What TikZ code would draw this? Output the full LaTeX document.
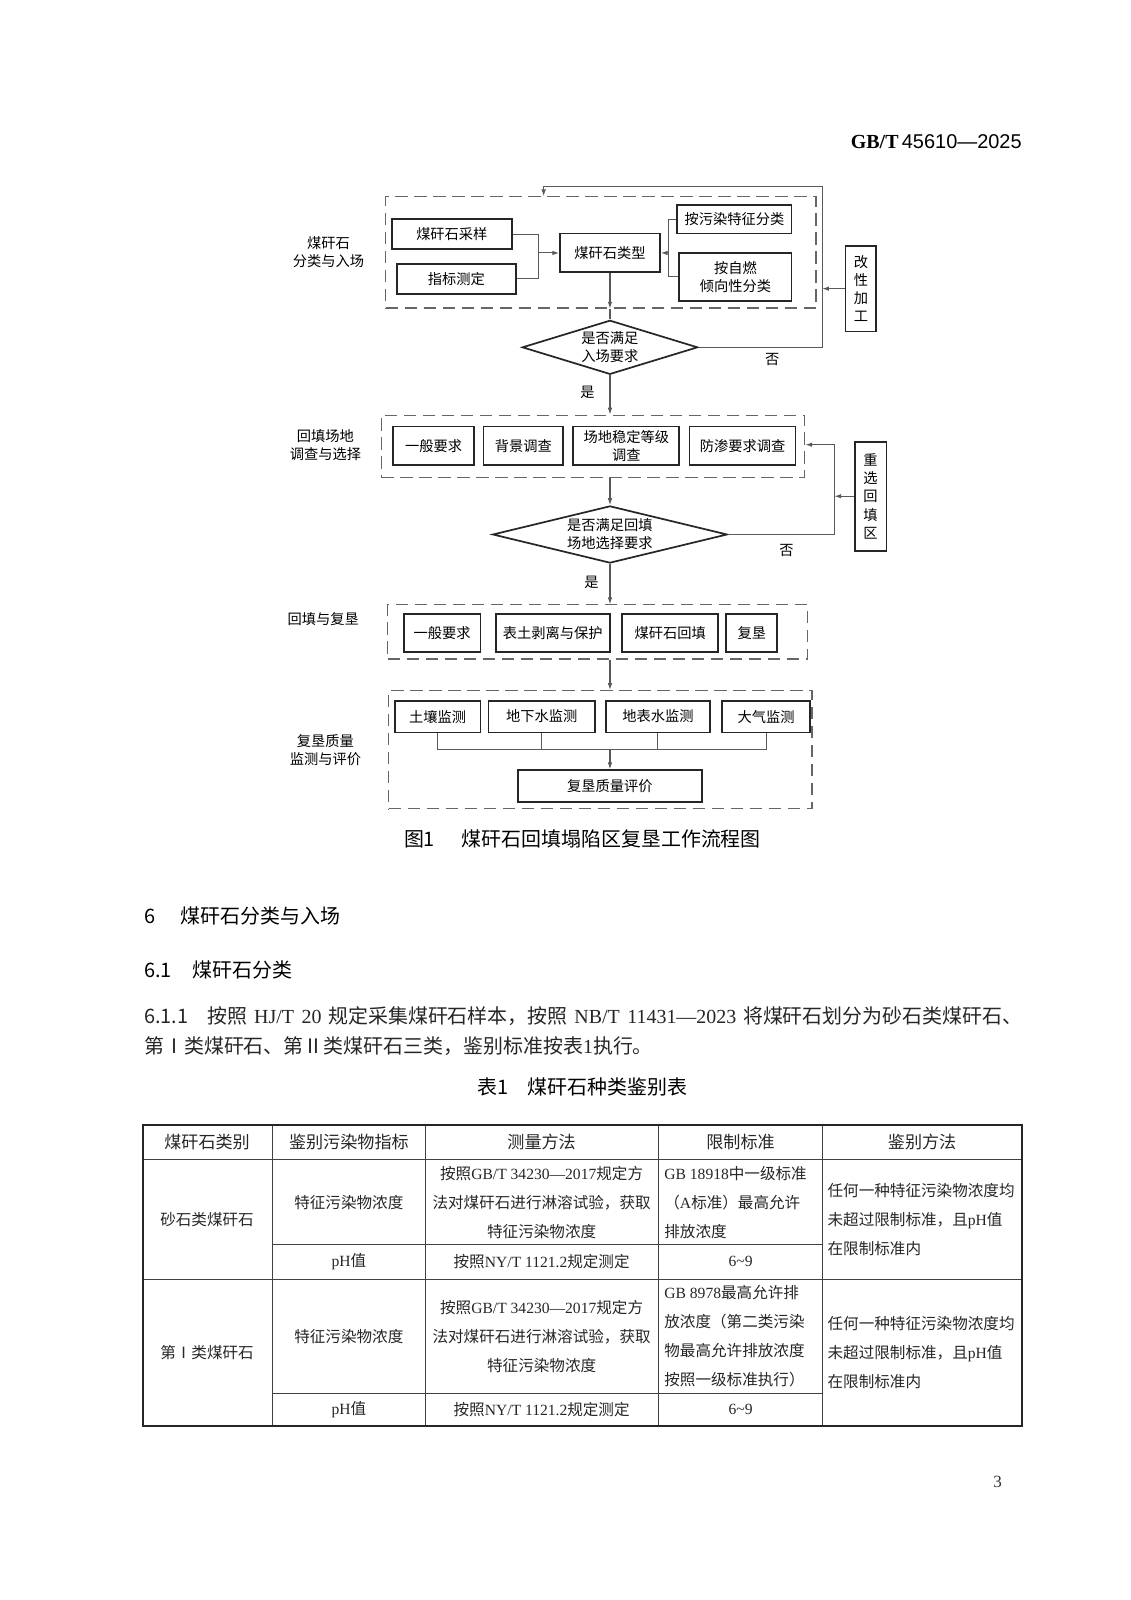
\documentclass[tikz,border=0pt]{standalone}
\usepackage{fontspec}
\setmainfont{Noto Sans CJK SC}
\newfontfamily\lat{Liberation Serif}
\newfontfamily\ari{Liberation Sans}
\usetikzlibrary{shapes.geometric,arrows.meta}
\newcommand\fsm{\fontsize{7.5}{9.4}\selectfont}
\newcommand\fvert{\fontsize{7.5}{9.6}\selectfont}
\newcommand\ftab{\fontsize{8.2}{15.3}\selectfont}
\newcommand\fhead{\fontsize{9}{11}\selectfont}
\newcommand\fbody{\fontsize{10.5}{16}\selectfont}
\begin{document}
\begin{tikzpicture}[x=0.53686pt,y=-0.53686pt,
  wh/.style 2 args={minimum width=#1*0.53686pt,minimum height=#2*0.53686pt},
  box/.style={draw=black!85,line width=0.9pt,inner sep=0pt,align=center,font=\fsm},
  vbox/.style={draw=black!85,line width=0.9pt,inner sep=0pt,align=center,font=\fvert},
  grp/.style={draw=black!60,line width=0.6pt,dash pattern=on 6.5pt off 3.5pt,inner sep=0pt},
  dia/.style={diamond,draw=black!85,line width=0.9pt,inner sep=0pt,align=center,font=\fsm},
  ln/.style={draw=black!65,line width=0.55pt},
  arr/.style={ln,-{Latex[length=3.6pt,width=2.4pt]}},
  lab/.style={align=center,font=\fsm,inner sep=0pt},
  tb/.style={align=center,font=\ftab,inner sep=0pt,text=black!85},
  th/.style={align=center,font=\fhead,inner sep=0pt,text=black!85},
  tl/.style={align=left,anchor=west,font=\ftab,inner sep=0pt,text=black!85},
  outer/.style={draw=black!85,line width=1pt},
  inner/.style={draw=black!75,line width=0.5pt},
]
\fill[white] (0,0) rectangle (1108.8,1568.6);
\useasboundingbox (0,0) rectangle (1108.8,1568.6);

% header
\node[anchor=east,inner sep=0pt] (hdr) at (1002,139)
  {\fontsize{10.5}{12}\selectfont{\lat\bfseries GB/T}\,{\ari 45610—2025}};

% ---------- section 1 ----------
\node[lab] (lab1) at (322,247) {煤矸石\\分类与入场};
\node[grp,wh={422}{109}] (dash1) at (589,247.5) {};
\node[box,wh={118}{29}] (samp) at (443,229.5) {煤矸石采样};
\node[box,wh={117}{29}] (meas) at (447.5,273.5) {指标测定};
\node[box,wh={98}{38}] (type) at (598,248) {煤矸石类型};
\node[box,wh={112}{28}] (pol) at (720,215) {按污染特征分类};
\node[box,wh={110}{47}] (self) at (721,271.5) {按自燃\\倾向性分类};
\node[dia,aspect=3.245,wh={172}{53}] (d1) at (598,340.5) {是否满足\\入场要求};
\node[vbox,wh={30}{84}] (mod) at (844,283) {改\\性\\加\\工};
\coordinate (j1) at (528,248);
\coordinate (b1) at (655,248);
\coordinate (c1) at (806,183);
\coordinate (c2) at (533,183);
\draw[ln] (samp.east) -| (j1);
\draw[ln] (meas.east) -| (j1);
\draw[arr] (j1) -- (type.west |- j1);
\draw[ln] (pol.west) -| (b1);
\draw[ln] (self.west) -| (b1);
\draw[arr] (b1) -- (type.east |- b1);
\draw[arr] (type.south) -- (type.south |- dash1.south);
\draw[ln] (type.south |- dash1.south) -- (d1.north);
\draw[arr] (d1.east) -| (c1) -- (c2) -- (c2 |- dash1.north);
\draw[arr] (mod.west) -- (mod.west -| c1);
\node[lab] (no1) at (757,352) {否};
\node[lab] (yes1) at (576,385) {是};

% ---------- section 2 ----------
\node[lab] (lab2) at (319,436) {回填场地\\调查与选择};
\node[grp,wh={415}{61}] (dash2) at (581.5,437.5) {};
\node[box,wh={80}{38}] (g1) at (425,437) {一般要求};
\node[box,wh={78}{38}] (g2) at (513,437) {背景调查};
\node[box,wh={104}{38}] (g3) at (614,437) {场地稳定等级\\调查};
\node[box,wh={104}{38}] (g4) at (728,437) {防渗要求调查};
\node[dia,aspect=4.107,wh={230}{56}] (d2) at (598,524) {是否满足回填\\场地选择要求};
\node[vbox,wh={31}{107}] (resel) at (853.5,486.5) {重\\选\\回\\填\\区};
\coordinate (c3) at (818,436);
\draw[arr] (d1.south) -- (d1.south |- dash2.north);
\draw[arr] (d2.north |- dash2.south) -- (d2.north);
\draw[arr] (d2.east) -| (c3) -- (c3 -| dash2.east);
\draw[arr] (resel.west) -- (resel.west -| c3);
\node[lab] (no2) at (771,540) {否};
\node[lab] (yes2) at (580,571) {是};

% ---------- section 3 ----------
\node[lab] (lab3) at (317,607) {回填与复垦};
\node[grp,wh={412}{53}] (dash3) at (586,619.5) {};
\node[box,wh={75}{37}] (f1) at (433.5,620.5) {一般要求};
\node[box,wh={112}{37}] (f2) at (542,620.5) {表土剥离与保护};
\node[box,wh={94}{37}] (f3) at (657,620.5) {煤矸石回填};
\node[box,wh={50}{37}] (f4) at (737,620.5) {复垦};
\draw[arr] (d2.south) -- (d2.south |- dash3.north);

% ---------- section 4 ----------
\node[lab] (lab4) at (319,735) {复垦质量\\监测与评价};
\node[grp,wh={415}{116}] (dash4) at (588.5,735) {};
\node[box,wh={84}{31}] (m1) at (429,702.5) {土壤监测};
\node[box,wh={104}{31}] (m2) at (531,702.5) {地下水监测};
\node[box,wh={102}{31}] (m3) at (645,702.5) {地表水监测};
\node[box,wh={86}{31}] (m4) at (751,702.5) {大气监测};
\node[box,wh={181}{31}] (eval) at (598,770.5) {复垦质量评价};
\coordinate (bus) at (598,735);
\draw[arr] (d2.south |- dash3.south) -- (d2.south |- dash4.north);
\draw[ln] (m1.south) -- (m1.south |- bus) -- (m4.south |- bus) -- (m4.south);
\draw[ln] (m2.south) -- (m2.south |- bus);
\draw[ln] (m3.south) -- (m3.south |- bus);
\draw[arr] (bus) -- (bus |- eval.north);

\node[font=\fbody,inner sep=0pt] (cap) at (571,822) {图1\hspace{14pt}煤矸石回填塌陷区复垦工作流程图};

% ---------- body text ----------
\node[anchor=west,inner sep=0pt,font=\fbody] (h6) at (141,898) {6\hspace{13.5pt}煤矸石分类与入场};
\node[anchor=west,inner sep=0pt,font=\fbody] (h61) at (141,951) {6.1\hspace{11pt}煤矸石分类};
\node[anchor=west,inner sep=0pt,font=\fbody,text=black!85] (p1) at (141,996)
  {\hbox to 462.2pt{\XeTeXlinebreaklocale "zh"\XeTeXlinebreakskip=0pt plus 1fil 6.1.1\hspace{10pt}按照 {\lat HJ/T 20} 规定采集煤矸石样本，按照 {\lat NB/T 11431—2023} 将煤矸石划分为砂石类煤矸石、}};
\node[anchor=west,inner sep=0pt,font=\fbody,text=black!85] (p2) at (141,1026)
  {第Ⅰ类煤矸石、第Ⅱ类煤矸石三类，鉴别标准按表{\lat 1}执行。};
\node[font=\fbody,inner sep=0pt] (tt) at (571,1066) {表1\hspace{10pt}煤矸石种类鉴别表};

% ---------- table ----------
\draw[inner] (140,1137) -- (1002,1137);
\draw[inner] (140,1254) -- (1002,1254);
\draw[inner] (267,1220) -- (806,1220);
\draw[inner] (267,1366) -- (806,1366);
\foreach \cx in {267,417,646,806} \draw[inner] (\cx,1103) -- (\cx,1398);
\draw[outer] (140,1103) rectangle (1002,1398);

\node[th] (t00) at (203,1120) {煤矸石类别};
\node[th] (t01) at (342,1120) {鉴别污染物指标};
\node[th] (t02) at (531,1120) {测量方法};
\node[th] (t03) at (726,1120) {限制标准};
\node[th] (t04) at (904,1120) {鉴别方法};

\node[tb] (t10) at (203,1196) {砂石类煤矸石};
\node[tb] (t11) at (342,1179) {特征污染物浓度};
\node[tb] (t12) at (531,1179) {按照{\lat GB/T 34230—2017}规定方\\法对煤矸石进行淋溶试验，获取\\特征污染物浓度};
\node[tl] (t13) at (651,1179) {{\lat GB 18918}中一级标准\\（{\lat A}标准）最高允许\\排放浓度};
\node[tb] (t21) at (342,1237) {{\lat pH}值};
\node[tb] (t22) at (531,1237) {按照{\lat NY/T 1121.2}规定测定};
\node[tb] (t23) at (726,1237) {\lat 6\symbol{"7E}9};
\node[tl] (t14) at (811,1196) {任何一种特征污染物浓度均\\未超过限制标准，且{\lat pH}值\\在限制标准内};

\node[tb] (t30) at (203,1326) {第Ⅰ类煤矸石};
\node[tb] (t31) at (342,1310) {特征污染物浓度};
\node[tb] (t32) at (531,1310) {按照{\lat GB/T 34230—2017}规定方\\法对煤矸石进行淋溶试验，获取\\特征污染物浓度};
\node[tl] (t33) at (651,1310) {{\lat GB 8978}最高允许排\\放浓度（第二类污染\\物最高允许排放浓度\\按照一级标准执行）};
\node[tb] (t41) at (342,1382) {{\lat pH}值};
\node[tb] (t42) at (531,1382) {按照{\lat NY/T 1121.2}规定测定};
\node[tb] (t43) at (726,1382) {\lat 6\symbol{"7E}9};
\node[tl] (t34) at (811,1326) {任何一种特征污染物浓度均\\未超过限制标准，且{\lat pH}值\\在限制标准内};

\node[font=\fontsize{9}{10}\selectfont\lat,inner sep=0pt,text=black!80] (pg) at (978,1453) {3};
\end{tikzpicture}
\end{document}
